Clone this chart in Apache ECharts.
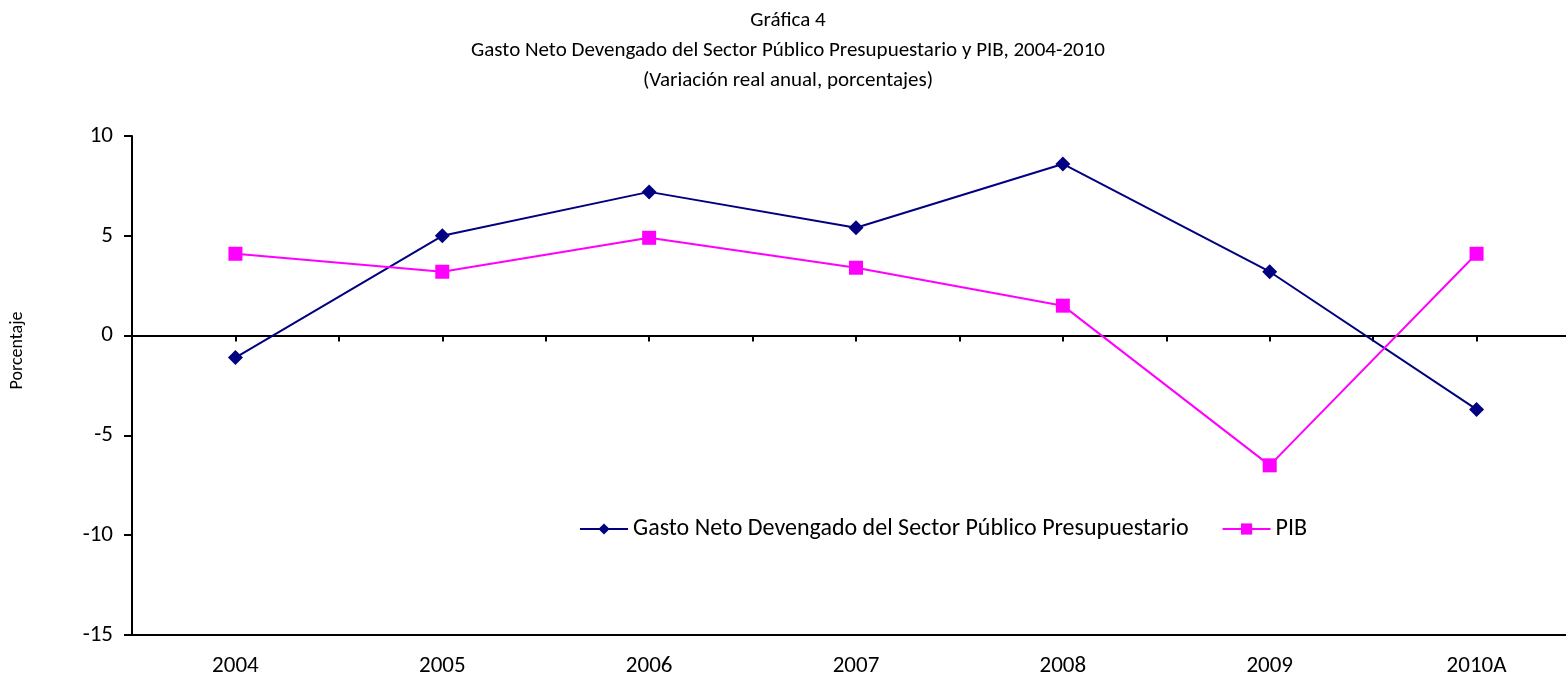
<!DOCTYPE html>
<html lang="es">
<head>
  <meta charset="UTF-8">
  <title>Gráfica 4</title>
  <script src="https://cdn.jsdelivr.net/npm/echarts@6/dist/echarts.min.js"></script>
  <style>html,body{margin:0;padding:0;background:#fff;overflow:hidden;}</style>
</head>
<body>
  <!-- the plot area runs past the right edge of the picture, so the chart is a bit wider than the window -->
  <div id="main" style="width: 1600px;height:681px;"></div>
</body>
<script type="text/javascript">
  var years = ['2004', '2005', '2006', '2007', '2008', '2009', '2010A'];
  var gasto = [-1.1, 5.0, 7.2, 5.4, 8.6, 3.2, -3.7];
  var pib = [4.1, 3.2, 4.9, 3.4, 1.5, -6.5, 4.1];
  var yTicks = [-15, -10, -5, 0, 5, 10];

  var font = 'Carlito, "Open Sans", sans-serif';
  var chart = echarts.init(document.getElementById('main'));

  var option = {
    textStyle: { fontFamily: font, color: '#000' },
    title: {
      text: 'Gráfica 4\nGasto Neto Devengado del Sector Público Presupuestario y PIB, 2004-2010\n(Variación real anual, porcentajes)',
      left: 783,
      textAlign: 'center',
      top: 1,
      textStyle: { fontFamily: font, fontSize: 21, fontWeight: 'normal', lineHeight: 30, color: '#000' }
    },
    legend: {
      left: 574,
      top: 512,
      itemWidth: 48,
      itemHeight: 14,
      itemGap: 33,
      textStyle: { fontFamily: font, fontSize: 24, color: '#000' },
      data: ['Gasto Neto Devengado del Sector Público Presupuestario', 'PIB']
    },
    grid: { left: 129, width: 1451, top: 136, bottom: 46, containLabel: false },
    xAxis: [
      {
        type: 'category',
        data: years,
        position: 'bottom',
        axisLine: { onZero: false, lineStyle: { color: '#000', width: 2 } },
        axisTick: { show: false },
        axisLabel: { fontSize: 23, color: '#000', margin: 20, fontFamily: font }
      },
      {
        type: 'category',
        data: years,
        position: 'bottom',
        axisLine: { onZero: true, onZeroAxisIndex: 0, lineStyle: { color: '#000', width: 2 } },
        axisTick: { show: true, length: 6, lineStyle: { color: '#000', width: 2 } },
        axisLabel: { show: false }
      },
      {
        type: 'category',
        data: years,
        position: 'bottom',
        axisLine: { onZero: true, onZeroAxisIndex: 0, lineStyle: { color: '#000', width: 2 } },
        axisTick: { show: true, alignWithLabel: true, length: 6, lineStyle: { color: '#000', width: 2 } },
        axisLabel: { show: false }
      }
    ],
    yAxis: {
      type: 'value',
      min: yTicks[0],
      max: yTicks[yTicks.length - 1],
      interval: 5,
      name: 'Porcentaje',
      nameLocation: 'middle',
      nameGap: 106,
      nameTextStyle: { fontFamily: font, fontSize: 18, color: '#000', padding: [0, 0, 0, 70] },
      axisLine: { show: true, lineStyle: { color: '#000', width: 2 } },
      axisTick: { show: true, length: 8, lineStyle: { color: '#000', width: 2 } },
      axisLabel: { fontSize: 23, color: '#000', margin: 19, fontFamily: font },
      splitLine: { show: false }
    },
    series: [
      {
        name: 'Gasto Neto Devengado del Sector Público Presupuestario',
        type: 'line',
        data: gasto,
        symbol: 'diamond',
        symbolSize: 15,
        color: '#000080',
        lineStyle: { color: '#000080', width: 2 },
        itemStyle: { color: '#000080' }
      },
      {
        name: 'PIB',
        type: 'line',
        data: pib,
        symbol: 'rect',
        symbolSize: 14,
        color: '#FF00FF',
        lineStyle: { color: '#FF00FF', width: 2 },
        itemStyle: { color: '#FF00FF' }
      }
    ]
  };

  chart.setOption(option);
</script>
</html>
